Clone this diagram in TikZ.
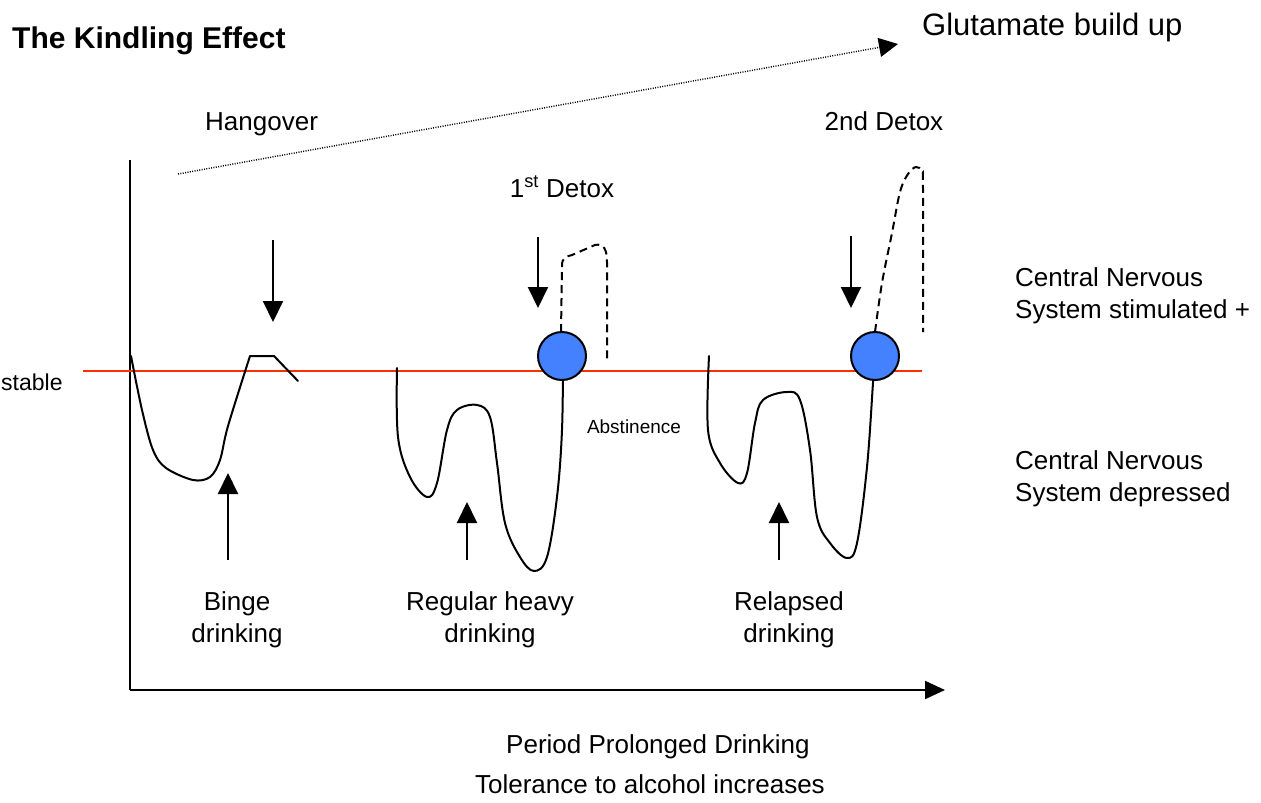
\documentclass[tikz,border=0pt]{standalone}
\usepackage{fontspec}
\setmainfont{Liberation Sans}
\usetikzlibrary{arrows.meta}
\definecolor{cnsred}{RGB}{255,48,0}
\definecolor{cnsblue}{RGB}{68,129,255}
\begin{document}
\begin{tikzpicture}[x=1pt,y=-1pt,
  txt/.style={inner sep=0pt, font=\fontsize{26}{32}\selectfont},
  curve/.style={line width=2pt, line join=round, line cap=round},
  dashcurve/.style={line width=2pt, dash pattern=on 8pt off 5pt},
  pointer/.style={line width=2pt, -{Triangle[length=21pt,width=20pt]}},
  axis/.style={line width=2pt, -{Triangle[length=20pt,width=18pt]}},
  bigdot/.style={circle, draw, line width=2pt, fill=cnsblue, minimum size=48pt, inner sep=0pt}
]
\useasboundingbox (0,0) rectangle (1261,803);

% axes and reference line
\coordinate (top) at (130,160);
\coordinate (O) at (130,690);
\coordinate (xend) at (945,690);
\draw[line width=2pt] (O) -- (top);
\draw[axis] (O) -- (xend);
\coordinate (rl) at (83,371);
\coordinate (rr) at (922,371);
\draw[cnsred, line width=2pt] (rl) -- (rr);

% glutamate trend
\coordinate (gs) at (178,174);
\coordinate (ge) at (898,44);
\draw[line width=1.4pt, dash pattern=on 1pt off 1.4pt, -{Triangle[length=19pt,width=19pt]}] (gs) -- (ge);

% curves
\draw[curve] plot[smooth, tension=0.55] coordinates {(131,356) (142,410) (153,450) (166,468) (193,480) (210,477) (220,460) (228,426) (250,356)} -- (274,356) -- (298,381);
\draw[curve] plot[smooth, tension=0.6] coordinates {(397,368) (398,437) (410,477) (427,497) (437,483) (447,430) (457,410) (477,405) (490,417) (497,463) (505,523) (520,557) (534,571) (547,557) (557,497) (562,430) (563,356)};
\draw[curve] plot[smooth, tension=0.6] coordinates {(709,356) (708,430) (720,463) (738,483) (747,473) (755,423) (763,400) (787,392) (800,400) (810,450) (817,517) (830,543) (847,558) (857,543) (867,467) (873,383) (875,356)};

% dashed rebounds
\draw[dashcurve] (561,332) -- (562,266) .. controls (562,258) and (565,257) .. (572,255) -- (595,245) .. controls (604,243) and (607,250) .. (607,262) -- (607,360);
\draw[dashcurve] plot[smooth, tension=0.6] coordinates {(875,332) (882,283) (892,233) (900,192) (908,174) (916,167) (922,172) (923,190) (923,332)};

% circles
\node[bigdot] (c1) at (562,356) {};
\node[bigdot] (c2) at (875,356) {};

% pointers
\coordinate (d1s) at (273,240); \coordinate (d1e) at (273,322);
\coordinate (d2s) at (538,237); \coordinate (d2e) at (538,308);
\coordinate (d3s) at (851,236); \coordinate (d3e) at (851,308);
\coordinate (u1s) at (228,560); \coordinate (u1e) at (228,473);
\coordinate (u2s) at (467,560); \coordinate (u2e) at (467,502);
\coordinate (u3s) at (779,560); \coordinate (u3e) at (779,502);
\draw[pointer] (d1s) -- (d1e);
\draw[pointer] (d2s) -- (d2e);
\draw[pointer] (d3s) -- (d3e);
\draw[pointer] (u1s) -- (u1e);
\draw[pointer] (u2s) -- (u2e);
\draw[pointer] (u3s) -- (u3e);

% texts
\node[inner sep=0pt, anchor=base west, font=\fontsize{30}{35}\selectfont\bfseries] (title) at (12,48) {The Kindling Effect};
\node[inner sep=0pt, anchor=base west, font=\fontsize{31}{36}\selectfont] (glu) at (922,35) {Glutamate build up};
\node[txt, anchor=base west] (hang) at (205,130) {Hangover};
\node[txt, anchor=base] (det2) at (884,130) {2nd Detox};
\node[txt, anchor=base] (det1) at (562,197) {1\textsuperscript{st} Detox};
\node[inner sep=0pt, anchor=base west, font=\fontsize{23}{28}\selectfont] (stab) at (1,390) {stable};
\node[inner sep=0pt, font=\fontsize{19}{23}\selectfont] (abst) at (634,427) {Abstinence};
\node[txt, align=left, anchor=west] (stim) at (1015,296) {Central Nervous\\System stimulated +};
\node[txt, align=left, anchor=west] (depr) at (1015,479) {Central Nervous\\System depressed};
\node[txt, align=center] (binge) at (237,620) {Binge\\drinking};
\node[txt, align=center] (reg) at (490,620) {Regular heavy\\drinking};
\node[txt, align=center] (rel) at (789,620) {Relapsed\\drinking};
\node[txt, anchor=base west] (period) at (506,753) {Period Prolonged Drinking};
\node[txt, anchor=base east] (tol) at (825,793) {Tolerance to alcohol increases};
\end{tikzpicture}
\end{document}
